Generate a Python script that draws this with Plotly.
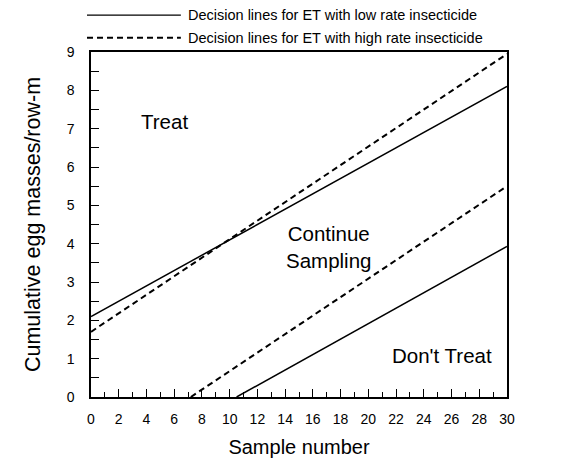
import plotly.graph_objects as go

# Decision lines (sample number vs cumulative egg masses/row-m)
low_upper_x = [0, 30]
low_upper_y = [2.1, 8.1]
low_lower_x = [10.5, 30]
low_lower_y = [0, 3.93]
high_upper_x = [0, 30]
high_upper_y = [1.7, 8.95]
high_lower_x = [7.2, 30]
high_lower_y = [0, 5.5]

legend_labels = ["Decision lines for ET with low rate insecticide",
                 "Decision lines for ET with high rate insecticide"]
x_ticks = list(range(0, 31, 2))
y_ticks = list(range(0, 10))

FONT = "Liberation Sans, Arial, sans-serif"
solid = dict(color="black", width=1.5)
dashed = dict(color="black", width=2, dash="6px,4px")

fig = go.Figure()
fig.add_trace(go.Scatter(x=low_upper_x, y=low_upper_y, mode="lines", line=solid, showlegend=False))
fig.add_trace(go.Scatter(x=low_lower_x, y=low_lower_y, mode="lines", line=solid, showlegend=False))
fig.add_trace(go.Scatter(x=high_upper_x, y=high_upper_y, mode="lines", line=dashed, showlegend=False))
fig.add_trace(go.Scatter(x=high_lower_x, y=high_lower_y, mode="lines", line=dashed, showlegend=False))

# manual legend above the plot
fig.add_shape(type="line", xref="paper", yref="paper", x0=-0.0096, x1=0.216, y0=1.107, y1=1.107,
              line=dict(color="black", width=1.2))
fig.add_shape(type="line", xref="paper", yref="paper", x0=-0.0096, x1=0.216, y0=1.041, y1=1.041,
              line=dict(color="black", width=2, dash="6px,4px"))
for yy, txt in zip([1.107, 1.041], legend_labels):
    fig.add_annotation(xref="paper", yref="paper", x=0.229, y=yy, text=txt, showarrow=False,
                       xanchor="left", yanchor="middle", font=dict(size=14.5, color="black", family=FONT))

# region labels
fig.add_annotation(x=5.3, y=7.2, text="Treat", showarrow=False, font=dict(size=20.5, color="black", family=FONT))
fig.add_annotation(x=17.1, y=3.92, text="Continue<br>Sampling", showarrow=False,
                   font=dict(size=20.5, color="black", family=FONT))
fig.add_annotation(x=25.3, y=1.07, text="Don't Treat", showarrow=False, font=dict(size=20.5, color="black", family=FONT))

fig.update_xaxes(range=[0, 30], tickvals=x_ticks, ticks="inside", ticklen=8, tickcolor="black",
                 minor=dict(dtick=1, ticks="inside", ticklen=5, tickcolor="black"),
                 showline=True, linecolor="black", linewidth=1.5, mirror=True, showgrid=False,
                 zeroline=False, ticklabelstandoff=8,
                 tickfont=dict(size=14, color="black", family=FONT),
                 title=dict(text="Sample number", font=dict(size=20, color="black", family=FONT), standoff=14))
fig.update_yaxes(range=[0, 9], tickvals=y_ticks, ticks="inside", ticklen=8, tickcolor="black",
                 minor=dict(dtick=0.5, ticks="inside", ticklen=8, tickcolor="black"),
                 showline=True, linecolor="black", linewidth=1.5, mirror=True, showgrid=False,
                 zeroline=False, ticklabelstandoff=12,
                 tickfont=dict(size=14, color="black", family=FONT),
                 title=dict(text="Cumulative egg masses/row-m", font=dict(size=21.5, color="black", family=FONT), standoff=20))

fig.update_layout(width=563, height=472, margin=dict(l=91, r=56, t=52, b=75),
                  paper_bgcolor="white", plot_bgcolor="white", showlegend=False,
                  font=dict(family=FONT, color="black"))
fig.write_html("out.html")
